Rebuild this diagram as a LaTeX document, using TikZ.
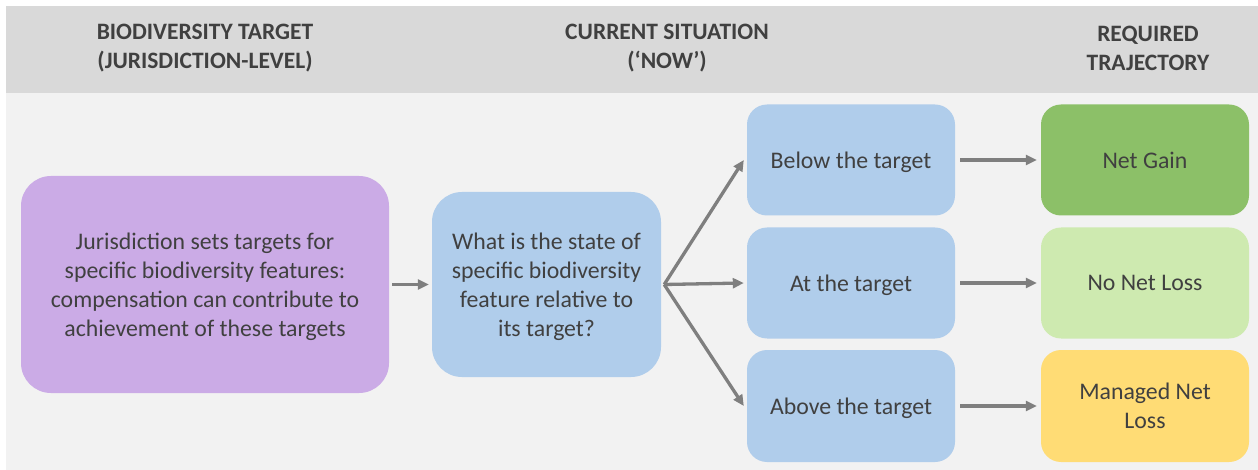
\documentclass[tikz,border=0pt]{standalone}
\usepackage{fontspec}
\setmainfont{Carlito}
\usetikzlibrary{arrows.meta}
\definecolor{panel}{HTML}{F2F2F2}
\definecolor{band}{HTML}{D9D9D9}
\definecolor{txt}{HTML}{404040}
\definecolor{purp}{HTML}{CBABE6}
\definecolor{blu}{HTML}{B0CDEB}
\definecolor{gdark}{HTML}{8CC068}
\definecolor{glight}{HTML}{CEEAB0}
\definecolor{yel}{HTML}{FFDC75}
\definecolor{arr}{HTML}{7F7F7F}
\tikzset{
  box/.style={draw=none, rounded corners=20pt, align=center, text=txt, inner sep=0pt,
    text depth=0pt, font=\fontsize{23.8}{29}\selectfont},
  head/.style={align=center, text=txt, font=\bfseries\fontsize{23.5}{29}\selectfont},
  conn/.style={draw=arr, line width=3.3pt, -{Triangle[length=11pt,width=10pt]}},
}
\begin{document}
\begin{tikzpicture}[x=1pt,y=-1pt]
\useasboundingbox (0,0) rectangle (1258,470);
\fill[white] (0,0) rectangle (1258,470);
\fill[panel] (6,6) rectangle (1258,470);
\fill[band] (6,6) rectangle (1258,93);
\node[head] (h1) at (205,48) {BIODIVERSITY TARGET\\(JURISDICTION-LEVEL)};
\node[head] (h2) at (667,48) {CURRENT SITUATION\\(‘NOW’)};
\node[head] (h3) at (1148,48) {REQUIRED\\TRAJECTORY};
\node[box, fill=purp, rounded corners=30pt, minimum width=368pt, minimum height=217pt] (j) at (205,284.5)
  {Jurisdiction sets targets for\\specific biodiversity features:\\compensation can contribute to\\achievement of these targets};
\node[box, fill=blu, rounded corners=30pt, minimum width=229pt, minimum height=185pt] (q) at (546.5,284.5)
  {What is the state of\\specific biodiversity\\feature relative to\\its target?};
\node[box, fill=blu, minimum width=208pt, minimum height=111pt] (b1) at (851,160) {Below the target};
\node[box, fill=blu, minimum width=208pt, minimum height=111pt] (b2) at (851,283) {At the target};
\node[box, fill=blu, minimum width=208pt, minimum height=112pt] (b3) at (851,406) {Above the target};
\node[box, fill=gdark, minimum width=208pt, minimum height=111pt] (r1) at (1145,160) {Net Gain};
\node[box, fill=glight, minimum width=208pt, minimum height=111pt] (r2) at (1145,283) {No Net Loss};
\node[box, fill=yel, minimum width=208pt, minimum height=112pt] (r3) at (1145,406) {Managed Net\\Loss};
\coordinate (fan) at ([xshift=3pt]q.east);
\draw[conn] ([xshift=3pt]j.east) -- ([xshift=-3pt]q.west);
\draw[conn, line join=round] (fan) -- ([xshift=-3pt]b1.west);
\draw[conn] (fan) -- ([xshift=-3pt]b2.west);
\draw[conn, line join=round] (fan) -- ([xshift=-3pt]b3.west);
\draw[conn] ([xshift=5pt]b1.east) -- ([xshift=-4pt]r1.west);
\draw[conn] ([xshift=5pt]b2.east) -- ([xshift=-4pt]r2.west);
\draw[conn] ([xshift=5pt]b3.east) -- ([xshift=-4pt]r3.west);
\end{tikzpicture}
\end{document}
